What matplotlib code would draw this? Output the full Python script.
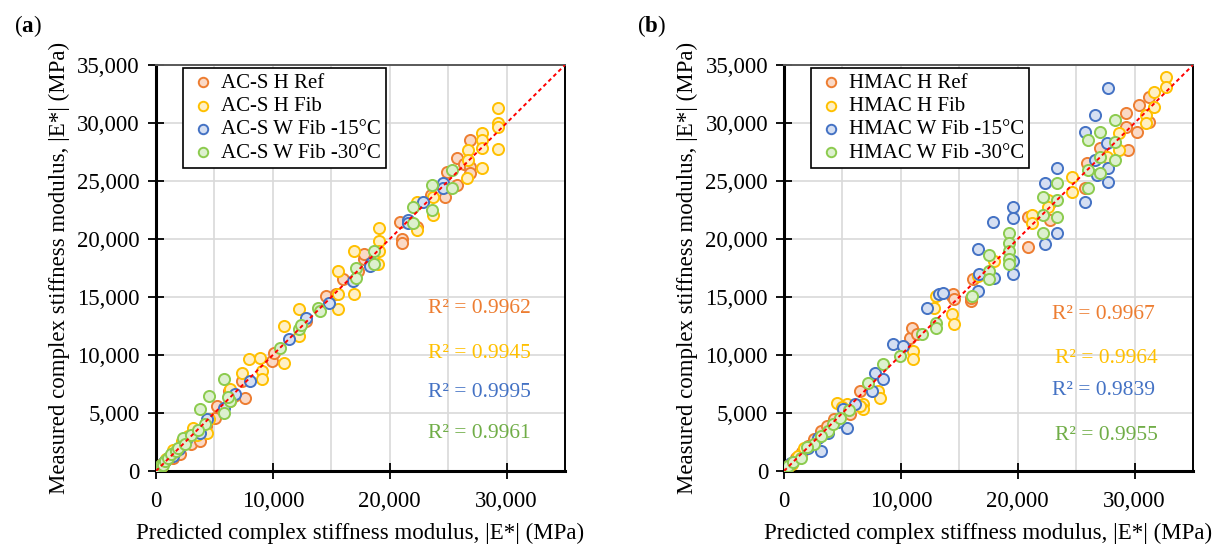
import matplotlib
matplotlib.use('Agg')
import matplotlib.pyplot as plt
from matplotlib.ticker import MultipleLocator, FuncFormatter

plt.rcParams['font.family'] = ['Liberation Serif', 'DejaVu Serif']
plt.rcParams['mathtext.fontset'] = 'custom'
plt.rcParams['mathtext.rm'] = 'Liberation Serif'
plt.rcParams['mathtext.bf'] = 'Liberation Serif:bold'

# (predicted, measured) pairs in MPa
a_ref = [(0, 0), (150, 200), (300, 350), (500, 600), (800, 900), (1020, 1100), (1440, 1120),
         (2030, 1470), (2880, 2850), (2970, 2330), (3730, 2590), (5080, 4580), (5250, 5620),
         (6270, 6900), (7370, 7780), (7620, 6300), (9910, 9500), (10080, 10200), (14570, 15120),
         (16000, 16590), (17280, 17280), (17790, 18320), (17790, 18750), (20920, 21430),
         (21090, 20040), (21090, 19700), (22360, 21000), (23500, 23800), (24730, 23590),
         (24900, 25750), (25750, 24620), (25750, 26950), (26400, 26500), (26850, 28500),
         (26850, 26180), (26850, 25660), (1800, 1900), (2500, 2400), (4300, 3900), (6700, 6500),
         (12800, 12900), (15400, 15300)]
a_fib = [(0, 0), (200, 300), (500, 450), (900, 1000), (1500, 1800), (3130, 3720), (4400, 3280),
         (4570, 4490), (6350, 7080), (6350, 6050), (7370, 8470), (7960, 9680), (8890, 9760),
         (9060, 8640), (9060, 7950), (10930, 12530), (10930, 9330), (12280, 14000),
         (12280, 11660), (15580, 17280), (15580, 15290), (15580, 14000), (16940, 19000),
         (16940, 15290), (19060, 20910), (19060, 19870), (19060, 19000), (18980, 17880),
         (22360, 23150), (22360, 20740), (23720, 23590), (23720, 22030), (26600, 25230),
         (26680, 27650), (26680, 26780), (27870, 29120), (27870, 28510), (27870, 27820),
         (27870, 26090), (29300, 31280), (29300, 29980), (29300, 29640), (29300, 27730),
         (2200, 2600), (2700, 3000), (3500, 3100)]
a_w15 = [(0, 0), (300, 250), (700, 800), (1500, 1300), (3730, 3280), (4400, 4490), (5840, 5440),
         (6780, 6650), (8050, 7780), (11350, 11400), (12870, 13220), (14820, 14520),
         (16860, 16420), (18380, 17970), (18300, 17710), (21600, 21600), (21600, 21340),
         (22870, 23150), (24560, 24800), (24560, 24360), (2000, 1900), (2600, 2700)]
a_w30 = [(0, 0), (100, 150), (250, 200), (400, 500), (600, 500), (800, 900), (1020, 1120),
         (1300, 1500), (1690, 1730), (2290, 2850), (3810, 5360), (4230, 4060), (4570, 6480),
         (5840, 7950), (5840, 5010), (6350, 6050), (10590, 10630), (12200, 12270),
         (13890, 14080), (17110, 17540), (17110, 16670), (18630, 19000), (18630, 17880),
         (22020, 22720), (22020, 21340), (23630, 24620), (23630, 22460), (25330, 25920),
         (25330, 24360), (1900, 2000), (2500, 2300), (3000, 3100), (3600, 3500), (6200, 6400),
         (12400, 12600), (14000, 13800)]

b_ref = [(0, 0), (200, 250), (500, 600), (1020, 1120), (2030, 2160), (3130, 3460), (4240, 4490),
         (5670, 4920), (6520, 6910), (10760, 11490), (10930, 12360), (11350, 11840),
         (14400, 15120), (14480, 15290), (16010, 14690), (16010, 14950), (16180, 16590),
         (14560, 14860), (20920, 21860), (20920, 19270), (22790, 23070), (22790, 21600),
         (25750, 24360), (25920, 26520), (27020, 27820), (29300, 30840), (29300, 29640),
         (29400, 27650), (30240, 29200), (30400, 31540), (31250, 32230), (31250, 30070),
         (1500, 1600), (2600, 2800), (3700, 3900)]
b_fib = [(0, 0), (300, 350), (700, 600), (1190, 1300), (1690, 1990), (4570, 5880), (5420, 5790),
         (6780, 5790), (6780, 5360), (8050, 6910), (8220, 6300), (11010, 10370), (11010, 9680),
         (12870, 14080), (13040, 15120), (14400, 13560), (14570, 12700), (16600, 16850),
         (17960, 18140), (21260, 22030), (21260, 21340), (22610, 23330), (22610, 22720),
         (24650, 25320), (24650, 24020), (27600, 27040), (28710, 29120), (28710, 27650),
         (31000, 30670), (31000, 29980), (31680, 32660), (31680, 31360), (32700, 33960),
         (32700, 33100), (5000, 5500), (6500, 5600)]
b_w15 = [(0, 0), (200, 150), (600, 700), (2030, 1990), (2880, 2850), (3130, 1730), (5080, 5360),
         (5420, 3720), (7540, 6910), (7790, 8470), (8470, 7950), (9320, 10970), (10160, 10800),
         (12200, 14080), (13300, 15290), (13640, 15380), (16600, 19180), (16600, 15550),
         (16690, 17020), (17870, 21430), (17960, 16680), (19570, 22720), (19570, 21770),
         (19570, 18140), (19570, 17020), (22360, 24800), (22360, 19610), (23380, 26090),
         (23380, 20480), (25750, 29200), (25750, 23150), (26600, 30670), (26600, 26780),
         (26770, 25490), (27600, 28250), (27700, 33000), (27700, 26090), (27700, 24880),
         (3800, 3300), (4600, 4200), (6100, 5800)]
b_w30 = [(0, 0), (340, 430), (800, 800), (1440, 1120), (2540, 2330), (3730, 3460), (4230, 4060),
         (4830, 4580), (7200, 7600), (8470, 9240), (9910, 9940), (11770, 11840), (13040, 12790),
         (13040, 12360), (16090, 15120), (17530, 18580), (17530, 17280), (17530, 16590),
         (19230, 20480), (19230, 19700), (19230, 19000), (19230, 18320), (19230, 17880),
         (22190, 23590), (22190, 22030), (22190, 20560), (23380, 24800), (23380, 23330),
         (23380, 21860), (26000, 28510), (26000, 25920), (26000, 24360), (27020, 29200),
         (27020, 27040), (27020, 25660), (28290, 30240), (28290, 28340), (28290, 26780),
         (2000, 2100), (3200, 3000), (5600, 5300)]

a_labels = ['AC-S H Ref', 'AC-S H Fib', 'AC-S W Fib -15°C', 'AC-S W Fib -30°C']
b_labels = ['HMAC H Ref', 'HMAC H Fib', 'HMAC W Fib -15°C', 'HMAC W Fib -30°C']
a_r2 = [0.9962, 0.9945, 0.9995, 0.9961]
b_r2 = [0.9967, 0.9964, 0.9839, 0.9955]
# where the R² labels sit, in data units (x, y)
a_r2_pos = [(27700, 14000), (27700, 10110), (27700, 6740), (27700, 3200)]
b_r2_pos = [(27300, 13480), (27600, 9680), (27300, 6910), (27600, 3020)]

edge_colors = ['#ED7D31', '#FFC000', '#4472C4', '#8CCB4E']
face_colors = ['#FAD9C6', '#FFF0C4', '#D5DFF2', '#DDF0CF']
text_colors = ['#ED7D31', '#FFC000', '#4472C4', '#70AD47']

FS = 16.5
LEG_FS = 15
R2_FS = 15.5


def draw_panel(ax, series, labels, r2, r2_pos):
    ax.grid(True, which='both', color='#D9D9D9', lw=1.2)
    ax.set_axisbelow(True)
    for pts, lab, ec, fc in zip(series, labels, edge_colors, face_colors):
        x, y = zip(*pts)
        ax.scatter(x, y, s=64, facecolors=fc, edgecolors=ec, linewidths=1.4, label=lab, zorder=3)
    ax.plot([0, 35000], [0, 35000], color='#FF0000', ls=(0, (2, 1.6)), lw=1.4, zorder=4)
    ax.set_xlim(0, 35000)
    ax.set_ylim(0, 35000)
    ax.xaxis.set_major_locator(MultipleLocator(10000))
    ax.xaxis.set_minor_locator(MultipleLocator(5000))
    ax.yaxis.set_major_locator(MultipleLocator(5000))
    fmt = FuncFormatter(lambda v, p: f'{int(v):,}')
    ax.xaxis.set_major_formatter(fmt)
    ax.yaxis.set_major_formatter(fmt)
    ax.tick_params(which='major', direction='inout', length=11, width=1.3, labelsize=FS, pad=6)
    ax.tick_params(which='minor', length=0)
    ax.tick_params(axis='x', pad=9)
    for side in ['left', 'bottom']:
        ax.spines[side].set_linewidth(2.2)
    ax.spines['right'].set_linewidth(1.4)
    ax.spines['top'].set_linewidth(1.4)
    ax.spines['top'].set_color('#595959')
    ax.set_xlabel('Predicted complex stiffness modulus, |E*| (MPa)', fontsize=FS, labelpad=8)
    ax.set_ylabel('Measured complex stiffness modulus, |E*| (MPa)', fontsize=FS, labelpad=5)
    leg = ax.legend(loc='upper left', bbox_to_anchor=(0.065, 0.993), borderaxespad=0,
                    fontsize=LEG_FS, fancybox=False, edgecolor='black', framealpha=1,
                    handletextpad=0.1, labelspacing=0.18, borderpad=0.25, markerscale=0.85,
                    handlelength=1.5)
    leg.get_frame().set_linewidth(1.2)
    for val, (px, py), c in zip(r2, r2_pos, text_colors):
        ax.text(px, py, f'R² = {val:.4f}', color=c, fontsize=R2_FS, ha='center', va='center')


fig = plt.figure(figsize=(12.3, 5.52), dpi=100)
ax_a = fig.add_axes([0.1268, 0.1467, 0.3325, 0.7355])
ax_b = fig.add_axes([0.6374, 0.1467, 0.3325, 0.7355])

draw_panel(ax_a, [a_ref, a_fib, a_w15, a_w30], a_labels, a_r2, a_r2_pos)
draw_panel(ax_b, [b_ref, b_fib, b_w15, b_w30], b_labels, b_r2, b_r2_pos)

fig.text(0.011, 0.952, r'($\mathbf{a}$)', fontsize=FS, va='center')
fig.text(0.518, 0.952, r'($\mathbf{b}$)', fontsize=FS, va='center')

fig.savefig('out.png', dpi=100)
